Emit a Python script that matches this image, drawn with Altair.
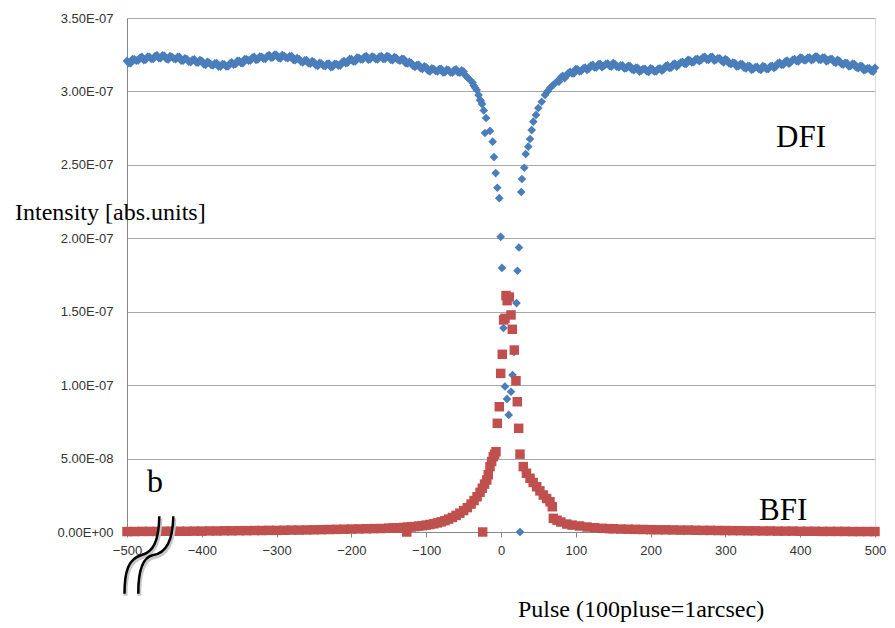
import altair as alt
import pandas as pd

# ---------------- data (intensity values in units of 1e-9 abs.units) ----------------
DFI_X = [
    -500, -495, -490, -485, -480, -475, -470, -465, -460, -455, -450, -445, -440, -435, -430,
    -425, -420, -415, -410, -405, -400, -395, -390, -385, -380, -375, -370, -365, -360, -355,
    -350, -345, -340, -335, -330, -325, -320, -315, -310, -305, -300, -295, -290, -285, -280,
    -275, -270, -265, -260, -255, -250, -245, -240, -235, -230, -225, -220, -215, -210, -205,
    -200, -195, -190, -185, -180, -175, -170, -165, -160, -155, -150, -145, -140, -135, -130,
    -125, -120, -115, -110, -105, -100, -95, -90, -85, -80, -75, -70, -65, -60, -55, -50, -45,
    -41.4, -38, -36.5, -34.5, -32.5, -30, -28, -27, -25.4, -23, -21.4, -20, -14.7, -11.1, -9.4,
    -7.1, -4.9, -2.3, -0.4, 1.3, 3.3, 5.3, 8.0, 10.3, 13.4, 15.4, 17.4, 20.7, 22.0, 24.0, 25.4,
    27.1, 28.0, 31.1, 33.0, 36.5, 38.8, 41.0, 43.2, 46.8, 49.9, 54.4, 58.8, 62, 65.5, 70, 74.5,
    80, 85, 90, 95, 100, 105, 110, 115, 120, 125, 130, 135, 140, 145, 150, 155, 160, 165, 170,
    175, 180, 185, 190, 195, 200, 205, 210, 215, 220, 225, 230, 235, 240, 245, 250, 255, 260,
    265, 270, 275, 280, 285, 290, 295, 300, 305, 310, 315, 320, 325, 330, 335, 340, 345, 350,
    355, 360, 365, 370, 375, 380, 385, 390, 395, 400, 405, 410, 415, 420, 425, 430, 435, 440,
    445, 450, 455, 460, 465, 470, 475, 480, 485, 490, 495, 500,
]
DFI_V = [
    320.8, 319.3, 321.9, 321.1, 323.5, 321.7, 323.5, 322.1, 324.6, 322.7, 324.2, 321.8, 323.6, 321.9, 323.5,
    320.9, 322.0, 319.9, 321.9, 319.6, 320.8, 318.0, 319.5, 317.7, 319.3, 316.9, 318.4, 317.0, 319.8, 318.5,
    320.8, 319.3, 321.9, 321.1, 323.6, 321.8, 323.6, 322.2, 324.8, 323.1, 324.8, 322.5, 324.3, 322.6, 324.1,
    321.3, 322.1, 319.7, 321.4, 318.9, 320.0, 317.3, 318.9, 317.2, 319.0, 316.9, 318.7, 317.6, 320.7, 319.6,
    322.0, 320.4, 322.8, 321.8, 324.0, 321.9, 323.4, 321.8, 324.1, 322.2, 323.7, 321.2, 322.8, 320.9, 322.1,
    319.0, 319.4, 316.7, 318.1, 315.4, 316.4, 313.6, 315.2, 313.6, 315.4, 313.1, 314.5, 312.8, 315.0, 312.8, 313.5, 309.6,
    307.8, 306.0, 304.0, 302.5, 301.0, 297.5, 294.2, 293.5, 291.4, 287.0, 271.7, 281.9, 273.1, 265.8, 255.3,
    244.4, 234.4, 227.3, 201.0, 179.8, 138.9, 99.1, 90.6, 79.7, 95.5, 106.9, 122.6, 155.9, 177.9, 193.7, 0.0,
    231.5, 240.4, 248.0, 257.4, 262.4, 267.6, 273.7, 279.4, 284.0, 288.7, 293.0, 297.6, 300.0, 302.3, 304.5, 306.6,
    309.5, 309.0, 312.5, 312.3, 315.2, 313.7, 315.8, 314.7, 317.6, 316.3, 318.4, 316.5, 318.7, 317.4, 319.3, 316.8, 317.8, 315.6, 317.4,
    315.0, 316.1, 313.5, 315.2, 313.7, 315.7, 313.6, 315.4, 314.2, 317.2, 316.0, 318.4, 316.9, 319.6, 318.9, 321.5, 319.8, 321.8,
    320.6, 323.3, 321.7, 323.4, 321.0, 322.6, 320.7, 322.0, 319.0, 319.6, 317.1, 318.7, 316.2, 317.3, 314.7, 316.5, 315.1, 317.2,
    315.2, 317.1, 316.0, 319.1, 318.0, 320.4, 318.9, 321.5, 320.7, 323.1, 321.2, 322.9, 321.3, 323.7, 321.7, 323.1, 320.5, 322.1,
    320.2, 321.6, 318.7, 319.5, 317.1, 318.8, 316.3, 317.3, 314.4, 315.8, 313.9, 316.1,
]

# interleaved DFI readings between the ones above
DFI_X2 = [
    -497.5, -492.5, -487.5, -482.5, -477.5, -472.5, -467.5, -462.5, -457.5, -452.5,
    -447.5, -442.5, -437.5, -432.5, -427.5, -422.5, -417.5, -412.5, -407.5, -402.5,
    -397.5, -392.5, -387.5, -382.5, -377.5, -372.5, -367.5, -362.5, -357.5, -352.5,
    -347.5, -342.5, -337.5, -332.5, -327.5, -322.5, -317.5, -312.5, -307.5, -302.5,
    -297.5, -292.5, -287.5, -282.5, -277.5, -272.5, -267.5, -262.5, -257.5, -252.5,
    -247.5, -242.5, -237.5, -232.5, -227.5, -222.5, -217.5, -212.5, -207.5, -202.5,
    -197.5, -192.5, -187.5, -182.5, -177.5, -172.5, -167.5, -162.5, -157.5, -152.5,
    -147.5, -142.5, -137.5, -132.5, -127.5, -122.5, -117.5, -112.5, -107.5, -102.5,
    -97.5, -92.5, -87.5, -82.5, -77.5, -72.5, -67.5, -62.5, -57.5, -52.5, -47.5,
    77.5, 82.5, 87.5, 92.5, 97.5, 102.5, 107.5, 112.5, 117.5, 122.5,
    127.5, 132.5, 137.5, 142.5, 147.5, 152.5, 157.5, 162.5, 167.5, 172.5,
    177.5, 182.5, 187.5, 192.5, 197.5, 202.5, 207.5, 212.5, 217.5, 222.5,
    227.5, 232.5, 237.5, 242.5, 247.5, 252.5, 257.5, 262.5, 267.5, 272.5,
    277.5, 282.5, 287.5, 292.5, 297.5, 302.5, 307.5, 312.5, 317.5, 322.5,
    327.5, 332.5, 337.5, 342.5, 347.5, 352.5, 357.5, 362.5, 367.5, 372.5,
    377.5, 382.5, 387.5, 392.5, 397.5, 402.5, 407.5, 412.5, 417.5, 422.5,
    427.5, 432.5, 437.5, 442.5, 447.5, 452.5, 457.5, 462.5, 467.5, 472.5,
    477.5, 482.5, 487.5, 492.5, 497.5,
]
DFI_V2 = [
    319.3, 322.0, 321.0, 323.0, 321.3, 323.6, 322.2, 324.0, 322.7, 324.6,
    322.2, 324.1, 322.3, 323.4, 320.9, 322.5, 320.3, 321.5, 319.8, 321.4,
    318.6, 320.2, 318.1, 319.2, 316.8, 318.7, 317.1, 319.0, 318.2, 320.8,
    319.3, 322.0, 321.0, 323.0, 321.4, 323.7, 322.3, 324.1, 323.0, 325.1,
    322.9, 324.8, 323.0, 324.0, 321.4, 322.7, 320.3, 321.2, 319.2, 320.6,
    317.9, 319.5, 317.6, 318.8, 316.6, 318.8, 317.5, 319.8, 319.2, 322.0,
    320.4, 323.0, 321.8, 323.6, 321.6, 323.7, 322.0, 323.6, 322.2, 324.1,
    321.7, 323.4, 321.4, 322.2, 319.2, 320.2, 317.4, 318.0, 315.8, 317.1,
    314.2, 315.8, 313.9, 315.2, 312.9, 314.8, 313.0, 314.5, 312.9, 314.3, 310.8,
    306.7, 310.6, 310.6, 313.3, 312.2, 315.0, 314.0, 316.2, 315.5, 318.1,
    316.3, 318.8, 317.4, 319.0, 316.8, 318.6, 316.5, 317.7, 315.8, 317.3,
    314.5, 316.1, 314.2, 315.4, 313.2, 315.2, 313.7, 315.8, 315.0, 317.7,
    316.2, 319.0, 318.1, 320.2, 318.7, 321.2, 320.0, 322.2, 321.3, 323.6,
    321.5, 323.5, 321.6, 322.6, 319.8, 321.1, 318.5, 319.3, 317.2, 318.6,
    315.7, 317.3, 315.4, 316.7, 314.6, 316.8, 315.4, 317.5, 316.9, 319.7,
    318.2, 321.0, 320.0, 322.0, 320.4, 322.7, 321.3, 323.1, 321.8, 323.8,
    321.4, 323.1, 321.1, 322.1, 319.4, 320.7, 318.3, 319.3, 317.3, 318.7,
    315.8, 317.2, 314.9, 315.8, 313.5,
]

BFI_X = [
    -500, -490, -480, -470, -460, -450, -440, -430, -420, -410, -400, -390, -380, -370, -360,
    -350, -340, -330, -320, -310, -300, -290, -280, -270, -260, -250, -240, -230, -220, -210,
    -200, -190, -180, -170, -160, -150, -145, -140, -135, -130, -126, -125, -120, -115, -110,
    -105, -100, -95, -90, -85, -80, -75, -70, -65, -60, -55, -50, -45, -40, -36, -32, -28,
    -25, -24.5, -22, -19, -17, -14.7, -12.5, -10.3, -8.5, -6.7, -4.9, -2.3, -0.4, 1.7, 3.5,
    5.3, 6.7, 8.2, 11.1, 13.4, 15.1, 17.8, 20.0, 21.8, 23.6, 25.4, 29.8, 34, 38.8, 43, 47.7,
    52, 56.6, 61, 65.5, 68.6, 70, 75, 80, 88, 95, 105, 115, 125, 135, 145, 150, 160, 170,
    180, 190, 200, 210, 220, 230, 240, 250, 260, 270, 280, 290, 300, 310, 320, 330, 340, 350,
    360, 370, 380, 390, 400, 410, 420, 430, 440, 450, 460, 470, 480, 490, 500,
]
BFI_V = [
    0.3, 0.3, 0.4, 0.4, 0.4, 0.5, 0.5, 0.5, 0.5, 0.6, 0.6, 0.7, 0.7, 0.8, 0.8,
    0.9, 0.9, 1.0, 1.0, 1.1, 1.1, 1.2, 1.3, 1.3, 1.4, 1.5, 1.6, 1.7, 1.8, 1.9,
    2.0, 2.1, 2.2, 2.3, 2.4, 2.6, 2.7, 2.8, 2.9, 3.1, 0.0, 3.3, 3.5, 3.7, 4.0,
    4.3, 4.7, 5.1, 5.6, 6.2, 6.9, 7.7, 8.8, 9.9, 11.3, 12.8, 14.6, 16.6, 19.0, 21.4, 24.0, 27.0,
    29.8, 0.0, 32.6, 35.4, 39.0, 44.5, 48.0, 51.3, 53.0, 54.7, 74.0, 85.3, 108.0, 121.0, 144.4,
    145.5, 161.0, 157.5, 160.0, 147.8, 138.0, 123.9, 103.0, 88.7, 70.6, 53.0, 44.5, 40.0, 36.6, 33.7, 30.8,
    28.0, 25.2, 22.8, 20.6, 17.2, 9.3, 8.0, 6.8, 5.4, 4.7, 4.1, 3.4, 2.9, 2.5, 2.3, 2.2, 2.0, 1.9,
    1.8, 1.7, 1.6, 1.5, 1.5, 1.4, 1.3, 1.3, 1.2, 1.1, 1.1, 1.0, 1.0, 0.9, 0.9, 0.8, 0.8, 0.7,
    0.7, 0.6, 0.6, 0.6, 0.5, 0.5, 0.5, 0.4, 0.4, 0.4, 0.4, 0.3, 0.3, 0.3, 0.3,
]

Y_TICKS = [0, 5e-8, 1e-7, 1.5e-7, 2e-7, 2.5e-7, 3e-7, 3.5e-7]
X_TICKS = [-500, -400, -300, -200, -100, 0, 100, 200, 300, 400, 500]

Y_TITLE = "Intensity [abs.units]"
X_TITLE = "Pulse (100pluse=1arcsec)"
LABEL_DFI = "DFI"
LABEL_BFI = "BFI"
LABEL_PANEL = "b"

# ---------------- build tables ----------------
dfi = pd.DataFrame({"x": DFI_X + DFI_X2, "v": [v * 1e-9 for v in DFI_V + DFI_V2]})
bfi = pd.DataFrame({"x": BFI_X, "v": [v * 1e-9 for v in BFI_V]})

BLUE = "#4A7EBB"
RED = "#C0504D"

xscale = alt.Scale(domain=[-500, 500], nice=False, zero=False)
yscale = alt.Scale(domain=[0, 3.5e-7], nice=False)

label_expr = ("datum.value == 0 ? '0.00E+00' : (datum.value >= 0.99e-7 ? "
              "format(datum.value*1e7, '.2f') + 'E-07' : format(datum.value*1e8, '.2f') + 'E-08')")

xaxis = alt.Axis(values=X_TICKS, title=None, grid=False, ticks=True, tickSize=5,
                 tickColor="#888888", domainColor="#888888", labelFlush=False,
                 labelFont="Liberation Sans", labelFontSize=13, labelColor="#333333",
                 labelPadding=7)
yaxis = alt.Axis(values=Y_TICKS, title=None, grid=True, gridColor="#A8A8A8",
                 ticks=False, tickSize=0, domainColor="#888888", labelExpr=label_expr,
                 labelFont="Liberation Sans", labelFontSize=13, labelColor="#333333",
                 labelPadding=14)

blue = alt.Chart(dfi).mark_point(shape="diamond", filled=True, size=75, opacity=1,
                                 color=BLUE).encode(
    x=alt.X("x:Q", scale=xscale, axis=xaxis),
    y=alt.Y("v:Q", scale=yscale, axis=yaxis),
)
red = alt.Chart(bfi).mark_point(shape="square", filled=True, size=90, opacity=1,
                                color=RED).encode(
    x=alt.X("x:Q", scale=xscale),
    y=alt.Y("v:Q", scale=yscale),
)


def label(text, x, y, size):
    return alt.Chart(pd.DataFrame({"t": [text]})).mark_text(
        font="Liberation Serif", fontSize=size, color="#000000", align="left",
        baseline="alphabetic").encode(text="t:N", x=alt.value(x), y=alt.value(y))


texts = [
    label(Y_TITLE, -112, 202, 24),
    label(X_TITLE, 391, 599, 24),
    label(LABEL_DFI, 649, 129, 31),
    label(LABEL_BFI, 632, 502, 31),
    label(LABEL_PANEL, 20, 474, 32),
]

BREAK_PATH = ("M0.27,-0.97 C0.26,-0.35 0.12,-0.08 -0.17,0 C-0.5,0.09 -0.6,0.4 -0.6,0.97 "
              "M0.62,-0.97 C0.61,-0.35 0.45,-0.05 0.12,0 C-0.15,0.05 -0.26,0.4 -0.255,0.97")
anchor = pd.DataFrame({"k": [0]})
break_shadow = alt.Chart(anchor).mark_point(shape=BREAK_PATH, size=6400, filled=False,
                                            stroke="#C8C8C8", strokeWidth=4, opacity=1).encode(
    x=alt.value(22.5), y=alt.value(539))
break_mark = alt.Chart(anchor).mark_point(shape=BREAK_PATH, size=6400, filled=False,
                                          stroke="#000000", strokeWidth=2.5, opacity=1).encode(
    x=alt.value(21.5), y=alt.value(537))

chart = alt.layer(blue, red, break_shadow, break_mark, *texts).properties(
    width=748, height=514,
    autosize=alt.AutoSizeParams(type="none"),
    padding={"left": 119, "top": 10, "right": 12, "bottom": 96},
).configure_view(stroke="#666666", strokeWidth=1).configure(background="white")

chart.save("out.html", embed_options={"renderer": "svg", "actions": False})
